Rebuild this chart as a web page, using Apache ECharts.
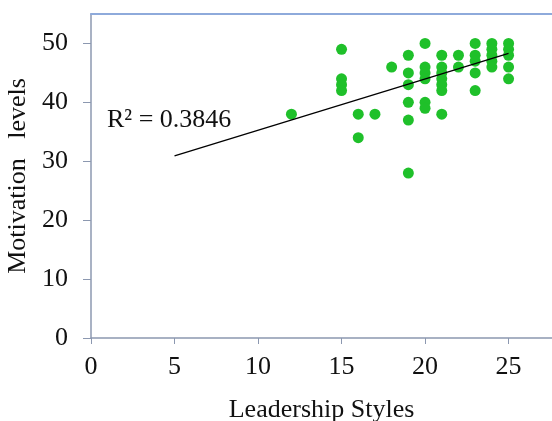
<!DOCTYPE html>
<html><head><meta charset="utf-8">
<script src="https://cdn.jsdelivr.net/npm/echarts@6/dist/echarts.min.js"></script>
<style>html,body{margin:0;padding:0;background:#fff}#c{width:552px;height:421px}</style>
</head><body><div id="c"></div>
<script>
var leadership = [12, 15,15,15,15, 16,16, 17, 18,
  19,19,19,19,19,19,
  20,20,20,20,20,20,
  21,21,21,21,21,21,21,
  22,22,
  23,23,23,23,23,
  24,24,24,24,24,
  25,25,25,25,25];
var motivation = [38, 49,44,43,42, 38,34, 38, 46,
  48,45,43,40,37,28,
  50,46,45,44,40,39,
  48,46,45,44,43,42,38,
  48,46,
  50,48,47,45,42,
  50,49,48,47,46,
  50,49,48,46,44];
var trendX = [5, 25];
var trendY = [30.9, 48.3];
var xTicks = [0, 5, 10, 15, 20, 25];
var yTicks = [0, 10, 20, 30, 40, 50];
var r2Label = 'R² = 0.3846';

var font = '"Liberation Serif", "Times New Roman", serif';
var pts = leadership.map(function(x, i){ return [x, motivation[i]]; });
var chart = echarts.init(document.getElementById('c'));
chart.setOption({
  animation: false,
  grid: {left: 91, right: 0, top: 14, bottom: 83, containLabel: false, outerBoundsMode: 'none'},
  xAxis: [{
    type: 'value', min: 0, max: 27.6, interval: 5,
    splitLine: {show: false},
    axisLine: {lineStyle: {color: '#8c98b0', width: 1.5}},
    axisTick: {length: 6, lineStyle: {color: '#8c98b0'}},
    axisLabel: {showMaxLabel: false, margin: 16, color: '#111', fontFamily: font, fontSize: 26,
      formatter: function(v){ return xTicks.indexOf(v) >= 0 ? String(v) : ''; }},
    name: 'Leadership Styles', nameLocation: 'middle', nameGap: 59,
    nameTextStyle: {color: '#111', fontFamily: font, fontSize: 26}
  }, {
    type: 'value', position: 'top', min: 0, max: 27.6,
    axisLine: {show: true, lineStyle: {color: '#8eaadb', width: 2}},
    axisTick: {show: false}, axisLabel: {show: false}, splitLine: {show: false}
  }],
  yAxis: {
    type: 'value', min: 0, max: 55, interval: 10,
    splitLine: {show: false},
    axisLine: {show: true, lineStyle: {color: '#8c98b0', width: 1.5}},
    axisTick: {show: true, length: 8, lineStyle: {color: '#8c98b0'}},
    axisLabel: {showMaxLabel: false, margin: 23, color: '#111', fontFamily: font, fontSize: 26,
      formatter: function(v){ return yTicks.indexOf(v) >= 0 ? String(v) : ''; }},
    name: 'Motivation   levels', nameLocation: 'middle', nameGap: 54,
    nameTextStyle: {color: '#111', fontFamily: font, fontSize: 26}
  },
  graphic: [{
    type: 'text', left: 107, top: 107,
    style: {text: r2Label, fill: '#111', font: '26px ' + font}
  }],
  series: [{
    type: 'scatter', data: pts, symbolSize: 11,
    itemStyle: {color: '#1fc02a', opacity: 1}
  }, {
    type: 'line', data: trendX.map(function(x, i){ return [x, trendY[i]]; }),
    symbol: 'none', lineStyle: {color: '#000', width: 1.3}
  }]
});
</script></body></html>
